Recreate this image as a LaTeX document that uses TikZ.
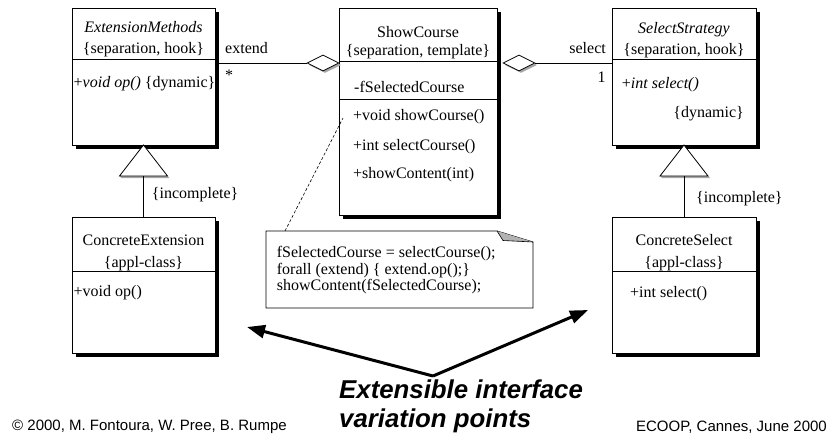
\documentclass[tikz,border=0pt]{standalone}
\usepackage{fontspec}
\setmainfont{Liberation Serif}
\newfontfamily\arialfont{Liberation Sans}
\usetikzlibrary{arrows.meta,shadows,shapes.geometric}

\tikzset{
  umlbox/.style={draw, line width=0.8pt, fill=white, anchor=north west,
    inner sep=0pt, outer sep=0pt,
    drop shadow={shadow xshift=4pt, shadow yshift=-4pt, fill=black, opacity=1}},
  txt/.style={inner sep=0pt, font=\fontsize{16}{16.5}\selectfont},
  sepline/.style={line width=0.8pt},
  link/.style={line width=0.8pt},
  aggr/.style={diamond, draw, line width=0.8pt, fill=white, inner sep=0pt,
    minimum width=32pt, minimum height=16pt,
    drop shadow={shadow xshift=2pt, shadow yshift=-2pt, fill=gray!70, opacity=1}},
  gentri/.style={draw, line width=0.8pt, fill=white},
  trishadow/.style={fill=gray!70},
  notebox/.style={draw, line width=0.8pt, fill=white},
  bigarrow/.style={line width=3pt, -{Triangle[length=18pt,width=13pt]}},
  bigtext/.style={inner sep=0pt, anchor=base west,
    font=\arialfont\bfseries\itshape\fontsize{25.8}{27}\selectfont},
  foot/.style={inner sep=0pt, font=\arialfont\fontsize{15}{16}\selectfont},
}

\begin{document}
\begin{tikzpicture}[x=1pt,y=-1pt]
\useasboundingbox (0,0) rectangle (838,437);

% ---- class boxes ----
\node[umlbox, minimum width=143pt, minimum height=137pt] (em) at (72,8) {};
\node[umlbox, minimum width=158pt, minimum height=207pt] (sc) at (339,8) {};
\node[umlbox, minimum width=144pt, minimum height=137pt] (ss) at (612,8) {};
\node[umlbox, minimum width=143pt, minimum height=136pt] (ce) at (72,217) {};
\node[umlbox, minimum width=144pt, minimum height=136pt] (cs) at (612,217) {};

% compartment separators
\draw[sepline] (72,59.3) -- (215,59.3);
\draw[sepline] (339,61.7) -- (497,61.7);
\draw[sepline] (339,99.3) -- (497,99.3);
\draw[sepline] (612,59.3) -- (756,59.3);
\draw[sepline] (72,271) -- (215,271);
\draw[sepline] (612,271) -- (756,271);

% ExtensionMethods
\node[txt, anchor=base] (emname) at (143.5,32) {\itshape ExtensionMethods};
\node[txt, anchor=base] (emtag) at (143.5,53.5) {\{separation, hook\}};
\node[txt, anchor=base west] (emop) at (73.5,87) {+\textit{void op()} \{dynamic\}};

% ShowCourse
\node[txt, anchor=base] (scname) at (418,37) {ShowCourse};
\node[txt, anchor=base] (sctag) at (418,55) {\{separation, template\}};
\node[txt, anchor=base west] (scattr) at (354,92) {-fSelectedCourse};
\node[txt, anchor=base west] (scm1) at (353,120) {+void showCourse()};
\node[txt, anchor=base west] (scm2) at (353,150) {+int selectCourse()};
\node[txt, anchor=base west] (scm3) at (353,178) {+showContent(int)};

% SelectStrategy
\node[txt, anchor=base] (ssname) at (684,33) {\itshape SelectStrategy};
\node[txt, anchor=base] (sstag) at (684,54) {\{separation, hook\}};
\node[txt, anchor=base west] (ssop) at (621.7,88) {+\textit{int select()}};
\node[txt, anchor=base east] (ssdyn) at (744,117) {\{dynamic\}};

% ConcreteExtension
\node[txt, anchor=base] (cename) at (143.5,245) {ConcreteExtension};
\node[txt, anchor=base] (cetag) at (143.5,267) {\{appl-class\}};
\node[txt, anchor=base west] (ceop) at (73.5,296) {+void op()};

% ConcreteSelect
\node[txt, anchor=base] (csname) at (684,245) {ConcreteSelect};
\node[txt, anchor=base] (cstag) at (684,267) {\{appl-class\}};
\node[txt, anchor=base west] (csop) at (630,297) {+int select()};

% ---- aggregations ----
\node[aggr] (dl) at (323,63) {};
\node[aggr] (dr) at (519,63) {};
\draw[link] (em.east |- dl.west) -- (dl.west);
\draw[link] (dr.east) -- (ss.west |- dr.east);
\node[txt, anchor=base west] (lext) at (225,53) {extend};
\node[txt] (lstar) at (229,75) {*};
\node[txt, anchor=base east] (lsel) at (606,53) {select};
\node[txt, anchor=base] (lone) at (601.7,82.5) {1};

% ---- generalizations ----
\coordinate (t1apex) at (143.5,145);
\coordinate (t1base) at (143.5,176);
\fill[trishadow] (119.5,176) -- (167.5,176) -- (169.5,178) -- (121.5,178) -- cycle;
\draw[gentri] (t1apex) -- (167.5,176) -- (119.5,176) -- cycle;
\draw[link] (t1base) -- (143.5,217);
\node[txt, anchor=base west] (inc1) at (151.7,198) {\{incomplete\}};

\coordinate (t2apex) at (684,145);
\coordinate (t2base) at (684,176);
\fill[trishadow] (660,176) -- (708,176) -- (710,178) -- (662,178) -- cycle;
\draw[gentri] (t2apex) -- (708,176) -- (660,176) -- cycle;
\draw[link] (t2base) -- (684,217);
\node[txt, anchor=base west] (inc2) at (696,202) {\{incomplete\}};

% ---- note ----
\draw[notebox] (266,231) -- (497,231) -- (533,242) -- (533,308) -- (266,308) -- cycle;
\fill[gray!60] (497,231) -- (533,242) -- (503,240.5) -- cycle;
\draw[line width=0.6pt] (497,231) -- (503,240.5) -- (533,242);
\node[txt, anchor=base west] (n1) at (276.7,257) {fSelectedCourse = selectCourse();};
\node[txt, anchor=base west] (n2) at (276.7,274) {forall (extend) \{ extend.op();\}};
\node[txt, anchor=base west] (n3) at (276.7,290) {showContent(fSelectedCourse);};
\coordinate (noteanchor) at (285,231);
\coordinate (methanchor) at (343,118);
\draw[line width=0.6pt, dash pattern=on 3pt off 2pt] (noteanchor) -- (methanchor);

% ---- variation point arrows ----
\coordinate (junction) at (433,376);
\coordinate (tipleft) at (247,327);
\coordinate (tipright) at (588,310);
\draw[bigarrow] (junction) -- (tipleft);
\draw[bigarrow] (junction) -- (tipright);
\node[bigtext] (vp1) at (339,398) {Extensible interface};
\node[bigtext] (vp2) at (339,427) {variation points};

% ---- footer ----
\node[foot, anchor=base west] (fl) at (12,430) {\textcopyright\ 2000, M. Fontoura, W. Pree, B. Rumpe};
\node[foot, anchor=base east] (fr) at (827,431) {ECOOP, Cannes, June 2000};
\end{tikzpicture}
\end{document}
